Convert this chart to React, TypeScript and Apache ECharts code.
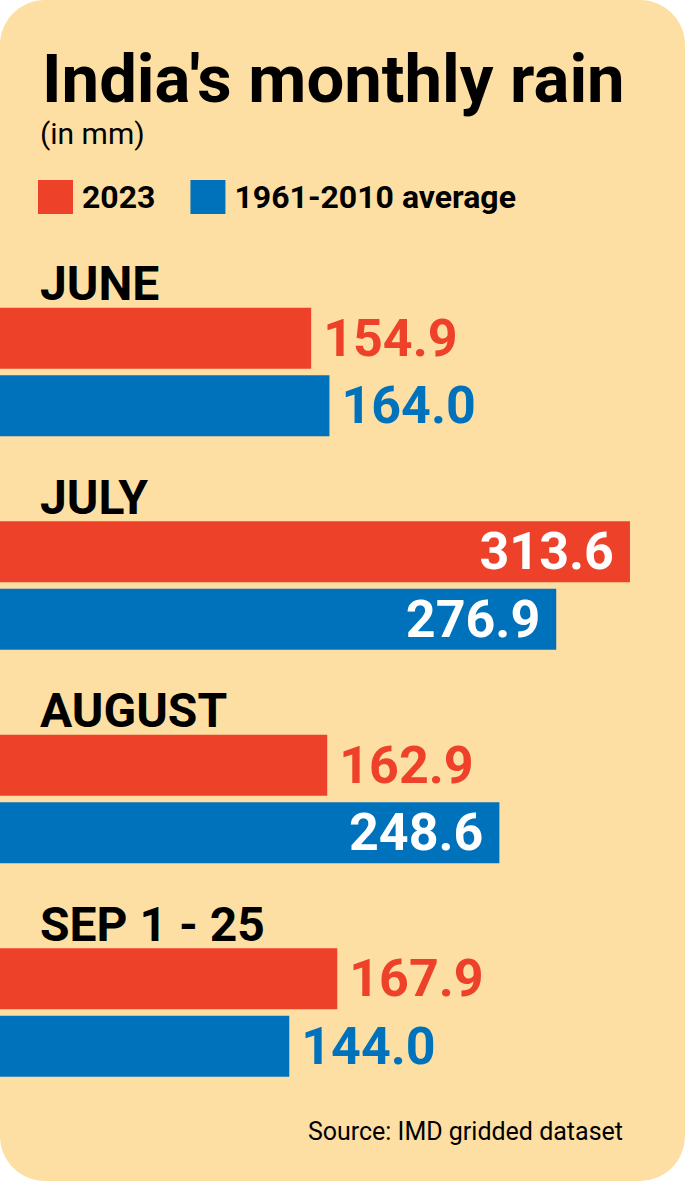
import React, { useEffect, useRef } from "react";
import * as echarts from "echarts";

const months = ["JUNE", "JULY", "AUGUST", "SEP 1 - 25"];
const rain2023 = [154.9, 313.6, 162.9, 167.9];
const rainAverage = [164.0, 276.9, 248.6, 144.0];
const seriesNames = ["2023", "1961-2010 average"];
const titleText = "India's monthly rain";
const subtitleText = "(in mm)";
const sourceText = "Source: IMD gridded dataset";

const RED = "#EE4129";
const BLUE = "#0072BC";
const BG = "#FDDFA3";
const FONT = "Roboto, 'Noto Sans', sans-serif";

function makeData(values: number[], color: string) {
  return values.map((v) => ({
    value: v,
    label:
      v > 200
        ? { position: "insideRight", distance: 16, color: "#FFFFFF" }
        : { position: "right", distance: 12, color },
  }));
}

export default function App() {
  const ref = useRef<HTMLDivElement>(null);
  useEffect(() => {
    if (!ref.current) return;
    const chart = echarts.init(ref.current, null, { renderer: "svg" });
    const labelBase = {
      show: true,
      fontFamily: FONT,
      fontWeight: "bold",
      fontSize: 52,
      formatter: (p: any) => Number(p.value).toFixed(1),
    };
    chart.setOption({
      animation: false,
      backgroundColor: "#FFFFFF",
      graphic: {
        elements: [
          {
            type: "rect",
            z: -10,
            silent: true,
            shape: { x: 0, y: 0, width: 685, height: 1181, r: 45 },
            style: { fill: BG },
          },
          {
            type: "text",
            z: 10,
            x: 42,
            y: 79,
            style: {
              text: titleText,
              font: `bold 67px ${FONT}`,
              fill: "#000000",
              verticalAlign: "middle",
              align: "left",
            },
          },
          {
            type: "text",
            z: 10,
            x: 40,
            y: 133,
            style: {
              text: subtitleText,
              font: `normal 30px ${FONT}`,
              fill: "#000000",
              verticalAlign: "middle",
              align: "left",
            },
          },
          {
            type: "text",
            z: 10,
            x: 623,
            y: 1131,
            style: {
              text: sourceText,
              font: `normal 25px ${FONT}`,
              fill: "#000000",
              verticalAlign: "middle",
              align: "right",
            },
          },
        ],
      },
      legend: {
        left: 38,
        top: 180,
        padding: 0,
        itemWidth: 35,
        itemHeight: 34,
        itemGap: 35,
        icon: "rect",
        data: seriesNames,
        textStyle: {
          fontFamily: FONT,
          fontWeight: "bold",
          fontSize: 32,
          color: "#000000",
          padding: [0, 0, 0, 4],
        },
      },
      grid: {
        left: 0,
        right: 0,
        top: 265.25,
        height: 854,
        containLabel: false,
        outerBoundsMode: "none",
      },
      xAxis: {
        type: "value",
        min: 0,
        max: 341,
        show: false,
      },
      yAxis: {
        type: "category",
        inverse: true,
        data: months,
        axisLine: { show: false },
        axisTick: { show: false },
        splitLine: { show: false },
        axisLabel: {
          inside: true,
          interval: 0,
          showMinLabel: true,
          showMaxLabel: true,
          hideOverlap: false,
          margin: 40,
          fontFamily: FONT,
          fontWeight: "bold",
          fontSize: 48,
          lineHeight: 177,
          color: "#000000",
          verticalAlign: "middle",
          formatter: (v: string) => v + "\n ",
        },
        z: 10,
      },
      series: [
        {
          name: seriesNames[0],
          type: "bar",
          barWidth: 61,
          barGap: "11%",
          itemStyle: { color: RED },
          label: { ...labelBase },
          data: makeData(rain2023, RED),
        },
        {
          name: seriesNames[1],
          type: "bar",
          barWidth: 61,
          barGap: "11%",
          itemStyle: { color: BLUE },
          label: { ...labelBase },
          data: makeData(rainAverage, BLUE),
        },
      ],
    });
    return () => chart.dispose();
  }, []);
  return (
    <div
      ref={ref}
      style={{ position: "absolute", left: 0, top: 0, width: 685, height: 1181 }}
    />
  );
}
